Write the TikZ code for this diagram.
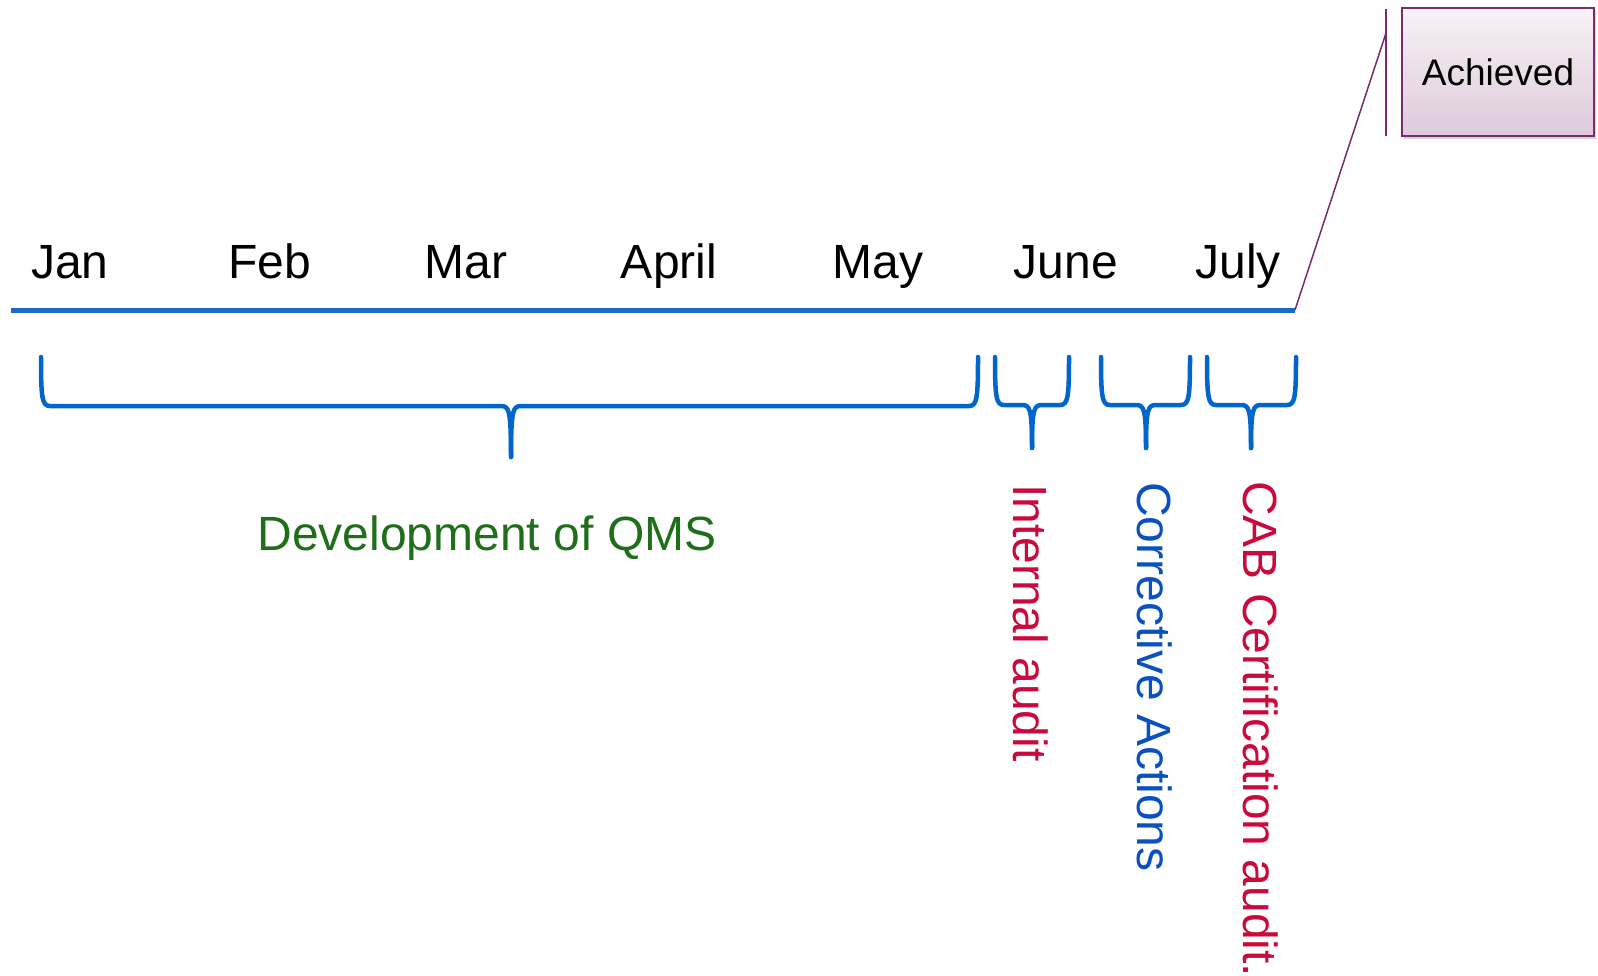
\documentclass[tikz,border=0pt]{standalone}
\usepackage{fontspec}
\setmainfont{Liberation Sans}
\usetikzlibrary{shadows}

\definecolor{lineblue}{HTML}{1A6CC8}
\definecolor{braceblue}{HTML}{0066CC}
\definecolor{textred}{HTML}{C80A3C}
\definecolor{textblue}{HTML}{0A50C0}
\definecolor{textgreen}{HTML}{1E6E1A}
\definecolor{boxpurple}{HTML}{7A2A6E}

\tikzset{
  month/.style={anchor=base, inner sep=0pt, font=\fontsize{48}{56}\selectfont},
  task/.style={anchor=base west, rotate=-90, inner sep=0pt, font=\fontsize{48}{56}\selectfont},
  bracket/.style={draw=braceblue, line width=4.5pt, line cap=round, line join=round},
  callout/.style={draw=boxpurple, line width=1.5pt}
}

% curly bracket: left x, tip x, right x, top y, middle y, tip y
\newcommand{\qbrace}[6]{%
  \draw[bracket] (#1,#4) .. controls (#1,#5-8) and (#1+1,#5) .. (#1+9,#5)
    -- (#2-10,#5) .. controls (#2-2,#5) and (#2,#5+4) .. (#2,#6);
  \draw[bracket] (#3,#4) .. controls (#3,#5-8) and (#3-1,#5) .. (#3-9,#5)
    -- (#2+10,#5) .. controls (#2+2,#5) and (#2,#5+4) .. (#2,#6);
}

\begin{document}
\begin{tikzpicture}[x=1pt, y=-1pt]
\useasboundingbox (0,0) rectangle (1598,975);

% time line
\coordinate (tlstart) at (11,310);
\coordinate (tlend) at (1295,310);
\draw[draw=lineblue, line width=5pt] (tlstart) -- (tlend);

\node[month] (jan) at (70,278) {Jan};
\node[month] (feb) at (270,278) {Feb};
\node[month] (mar) at (466,278) {Mar};
\node[month] (apr) at (669,278) {April};
\node[month] (may) at (878,278) {May};
\node[month] (jun) at (1066,278) {June};
\node[month] (jul) at (1238,278) {July};

% brackets under the line
\qbrace{41}{511}{978}{357}{406}{457}
\qbrace{995}{1032}{1069}{357}{405}{448}
\qbrace{1101}{1146}{1190}{357}{405}{448}
\qbrace{1207}{1251}{1296}{357}{405}{448}

\node[anchor=base, inner sep=0pt, text=textgreen, font=\fontsize{48}{56}\selectfont] (qms) at (487,550) {Development of QMS};
\node[task, text=textred] (audit) at (1013,484) {Internal audit};
\node[task, text=textblue] (actions) at (1137,482) {Corrective Actions};
\node[task, text=textred] (cab) at (1243,481) {CAB Certification audit.};

% achieved callout
\node[draw=boxpurple, line width=1.5pt, top color=boxpurple!6, bottom color=boxpurple!25,
  minimum width=192pt, minimum height=128pt, inner sep=0pt,
  drop shadow={shadow xshift=2pt, shadow yshift=-3pt, opacity=0.35},
  font=\fontsize{37}{42}\selectfont] (achieved) at (1498,72) {Achieved};
\coordinate (bartop) at (1386,9);
\coordinate (barbot) at (1386,136);
\coordinate (barhit) at (1386,33);
\draw[callout] (bartop) -- (barbot);
\draw[callout] (tlend) -- (barhit);
\end{tikzpicture}
\end{document}
